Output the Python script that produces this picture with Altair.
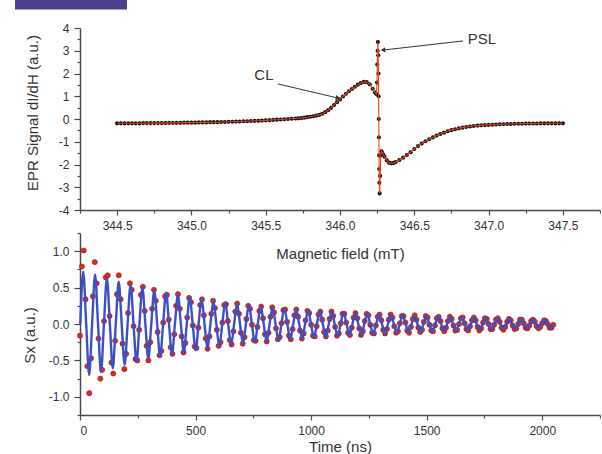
import altair as alt
import pandas as pd

FONT = "Liberation Sans"
TXT = "#333333"
AX = "#4a4a4a"

# ---------------- top panel: EPR spectrum ----------------
epr_field = [
    344.500, 344.525, 344.550, 344.575, 344.600, 344.625, 344.650, 344.675, 344.700, 344.725,
    344.750, 344.775, 344.800, 344.825, 344.850, 344.875, 344.900, 344.925, 344.950, 344.975,
    345.000, 345.025, 345.050, 345.075, 345.100, 345.125, 345.150, 345.175, 345.200, 345.225,
    345.250, 345.275, 345.300, 345.325, 345.350, 345.375, 345.400, 345.425, 345.450, 345.475,
    345.500, 345.525, 345.550, 345.575, 345.600, 345.625, 345.650, 345.675, 345.700,
    345.72, 345.74, 345.76, 345.78, 345.80, 345.82, 345.84, 345.86, 345.88, 345.90,
    345.92, 345.94, 345.96, 345.98, 346.00, 346.02, 346.04, 346.06, 346.08, 346.10,
    346.12, 346.14, 346.16, 346.18, 346.20, 346.22, 346.235, 346.245,
    346.249, 346.251, 346.253, 346.255, 346.257, 346.259, 346.260, 346.261, 346.262, 346.263,
    346.264, 346.265, 346.267, 346.270, 346.274, 346.280, 346.290, 346.300, 346.315, 346.330,
    346.345, 346.360, 346.375,
    346.400, 346.425, 346.450, 346.475, 346.500, 346.525, 346.550, 346.575, 346.600, 346.625,
    346.650, 346.675, 346.700, 346.725, 346.750, 346.775, 346.800, 346.825, 346.850, 346.875,
    346.900, 346.925, 346.950, 346.975, 347.000, 347.025, 347.050, 347.075, 347.100, 347.125,
    347.150, 347.175, 347.200, 347.225, 347.250, 347.275, 347.300, 347.325, 347.350, 347.375,
    347.400, 347.425, 347.450, 347.475, 347.500,
]
epr_signal = [
    -0.19, -0.19, -0.19, -0.19, -0.19, -0.19, -0.19, -0.18, -0.18, -0.18,
    -0.18, -0.18, -0.18, -0.18, -0.17, -0.17, -0.17, -0.17, -0.16, -0.16,
    -0.16, -0.16, -0.15, -0.15, -0.15, -0.14, -0.14, -0.14, -0.13, -0.13,
    -0.12, -0.12, -0.11, -0.11, -0.10, -0.10, -0.09, -0.08, -0.08, -0.07,
    -0.06, -0.05, -0.04, -0.03, -0.02, -0.01, 0.00, 0.01, 0.02,
    0.03, 0.04, 0.06, 0.08, 0.10, 0.12, 0.15, 0.18, 0.23, 0.30,
    0.39, 0.49, 0.61, 0.74, 0.86, 0.99, 1.11, 1.22, 1.32, 1.42,
    1.51, 1.58, 1.63, 1.62, 1.53, 1.33, 1.16, 1.10,
    1.6, 2.4, 3.0, 3.38, 2.8, 2.0, 1.0, 0.0, -0.8, -1.6,
    -2.2, -2.8, -3.27, -2.5, -1.6, -1.42, -1.55, -1.66, -1.82, -1.92,
    -1.95, -1.93, -1.89,
    -1.80, -1.70, -1.58, -1.46, -1.32, -1.19, -1.08, -0.98, -0.89, -0.81,
    -0.73, -0.66, -0.60, -0.54, -0.49, -0.45, -0.41, -0.38, -0.35, -0.33,
    -0.31, -0.29, -0.28, -0.27, -0.26, -0.25, -0.24, -0.23, -0.23, -0.22,
    -0.22, -0.21, -0.21, -0.21, -0.20, -0.20, -0.20, -0.20, -0.19, -0.19,
    -0.19, -0.19, -0.19, -0.19, -0.19,
]

epr_x_ticks = [344.25, 344.5, 344.75, 345.0, 345.25, 345.5, 345.75, 346.0, 346.25,
               346.5, 346.75, 347.0, 347.25, 347.5, 347.75]
epr_y_ticks = [-4, -3.5, -3, -2.5, -2, -1.5, -1, -0.5, 0, 0.5, 1, 1.5, 2, 2.5, 3, 3.5, 4]

# annotations (data units)
note_text = ["PSL", "CL"]
note_field = [346.956, 345.488]
note_signal = [3.52, 1.93]
arrow_from_field = [346.828, 345.583]
arrow_from_signal = [3.43, 1.54]
arrow_to_field = [346.289, 345.987]
arrow_to_signal = [3.03, 0.92]
arrow_angle = [173.6, 13.0]

# ---------------- bottom panel: Sx oscillation ----------------
sx_start_ns = 0.0
sx_step_ns = 8.0
fit_start_ns = 1.2
fit_step_ns = 12.8
sx_red = [
    -0.16, 0.79, 1.01, 0.34, -0.58, -0.95, -0.47, 0.38, 0.85, 0.56, -0.20, -0.75, -0.63, 0.04, 0.64, 0.67,
    0.11, -0.53, -0.68, -0.23, 0.41, 0.67, 0.34, -0.27, -0.62, -0.41, 0.15, 0.56, 0.47, -0.03, -0.48, -0.50,
    -0.08, 0.40, 0.51, 0.18, -0.30, -0.50, -0.25, 0.21, 0.47, 0.32, -0.11, -0.43, -0.37, 0.02, 0.38, 0.40,
    0.06, -0.32, -0.41, -0.14, 0.25, 0.41, 0.21, -0.17, -0.39, -0.26, 0.09, 0.36, 0.30, -0.02, -0.31, -0.33,
    -0.05, 0.26, 0.34, 0.12, -0.20, -0.34, -0.17, 0.14, 0.32, 0.22, -0.08, -0.30, -0.25, 0.02, 0.26, 0.27,
    0.04, -0.22, -0.28, -0.10, 0.17, 0.28, 0.14, -0.12, -0.27, -0.18, 0.07, 0.25, 0.21, -0.01, -0.22, -0.23,
    -0.04, 0.18, 0.24, 0.08, -0.14, -0.24, -0.12, 0.10, 0.23, 0.16, -0.06, -0.21, -0.18, 0.01, 0.19, 0.20,
    0.03, -0.16, -0.21, -0.07, 0.12, 0.20, 0.10, -0.09, -0.20, -0.13, 0.05, 0.18, 0.15, -0.01, -0.16, -0.17,
    -0.03, 0.13, 0.17, 0.06, -0.11, -0.17, -0.09, 0.07, 0.17, 0.11, -0.04, -0.16, -0.13, 0.01, 0.14, 0.14,
    0.02, -0.12, -0.15, -0.05, 0.09, 0.15, 0.08, -0.06, -0.15, -0.10, 0.04, 0.14, 0.12, -0.01, -0.12, -0.13,
    -0.02, 0.10, 0.13, 0.05, -0.08, -0.13, -0.07, 0.06, 0.13, 0.09, -0.03, -0.12, -0.10, 0.01, 0.11, 0.11,
    0.02, -0.09, -0.12, -0.04, 0.07, 0.12, 0.06, -0.05, -0.11, -0.08, 0.03, 0.11, 0.09, -0.01, -0.09, -0.10,
    -0.02, 0.08, 0.10, 0.04, -0.06, -0.10, -0.05, 0.04, 0.10, 0.07, -0.02, -0.09, -0.08, 0.00, 0.08, 0.09,
    0.01, -0.07, -0.09, -0.03, 0.05, 0.09, 0.05, -0.04, -0.09, -0.06, 0.02, 0.08, 0.07, 0.00, -0.07, -0.07,
    -0.01, 0.06, 0.08, 0.03, -0.05, -0.08, -0.04, 0.03, 0.07, 0.05, -0.02, -0.07, -0.06, 0.00, 0.06, 0.06,
    0.01, -0.05, -0.06, -0.02, 0.04, 0.06, 0.03, -0.03, -0.06, -0.04, 0.01, 0.05, 0.04, 0.00, -0.05, -0.05,
    -0.01,
]
sx_fit = [
    0, 0.72, 0, -0.70, 0, 0.68, 0, -0.66, 0, 0.63, 0, -0.61, 0, 0.58, 0, -0.56,
    0, 0.54, 0, -0.52, 0, 0.50, 0, -0.48, 0, 0.46, 0, -0.45, 0, 0.43, 0, -0.42,
    0, 0.40, 0, -0.39, 0, 0.37, 0, -0.36, 0, 0.35, 0, -0.34, 0, 0.32, 0, -0.31,
    0, 0.30, 0, -0.29, 0, 0.28, 0, -0.27, 0, 0.26, 0, -0.255, 0, 0.245, 0, -0.24,
    0, 0.23, 0, -0.225, 0, 0.215, 0, -0.21, 0, 0.20, 0, -0.20, 0, 0.19, 0, -0.185,
    0, 0.18, 0, -0.175, 0, 0.17, 0, -0.165, 0, 0.16, 0, -0.155, 0, 0.15, 0, -0.145,
    0, 0.14, 0, -0.135, 0, 0.13, 0, -0.13, 0, 0.125, 0, -0.12, 0, 0.12, 0, -0.115,
    0, 0.11, 0, -0.11, 0, 0.105, 0, -0.10, 0, 0.10, 0, -0.095, 0, 0.095, 0, -0.09,
    0, 0.09, 0, -0.085, 0, 0.085, 0, -0.08, 0, 0.08, 0, -0.075, 0, 0.075, 0, -0.07,
    0, 0.07, 0, -0.065, 0, 0.065, 0, -0.06, 0, 0.06, 0, -0.055, 0, 0.055, 0, -0.05,
    0,
]
sx_x_ticks = [0, 250, 500, 750, 1000, 1250, 1500, 1750, 2000, 2250]
sx_y_ticks = [-1.25, -1.0, -0.75, -0.5, -0.25, 0.0, 0.25, 0.5, 0.75, 1.0, 1.25]

# ---------------- tables ----------------
epr_df = pd.DataFrame({"field": epr_field, "signal": epr_signal})
note_df = pd.DataFrame({"field": note_field, "signal": note_signal, "text": note_text})
arrow_df = pd.DataFrame({"field": arrow_from_field, "signal": arrow_from_signal,
                         "field2": arrow_to_field, "signal2": arrow_to_signal})
head_df = pd.DataFrame({"field": arrow_to_field, "signal": arrow_to_signal, "angle": arrow_angle})
sx_df = pd.DataFrame({"t": [sx_start_ns + i * sx_step_ns for i in range(len(sx_red))], "sx": sx_red})
fit_df = pd.DataFrame({"t": [fit_start_ns + i * fit_step_ns for i in range(len(sx_fit))], "sx": sx_fit})

W, H = 520, 182

def cond(test, major, minor):
    return {"condition": {"test": test, "value": major}, "value": minor}

half_test = "abs(datum.value * 2 - round(datum.value * 2)) < 0.001"
int_test = "abs(datum.value - round(datum.value)) < 0.001"

common_axis = dict(grid=False, labelFont=FONT, labelFontSize=12, labelColor=TXT,
                   titleFont=FONT, titleFontSize=15, titleFontWeight="normal", titleColor=TXT,
                   domainColor=AX, domainWidth=1.5, tickColor=AX, tickWidth=1.2,
                   labelPadding=5, titleBaseline="middle")

epr_x_scale = alt.Scale(domain=[344.25, 347.75], nice=False, zero=False)
epr_y_scale = alt.Scale(domain=[-4, 4], nice=False, zero=False)

epr_x_axis = alt.Axis(values=epr_x_ticks, title="Magnetic field (mT)",
                      labelExpr=f"{half_test} ? format(datum.value, '.1f') : ''",
                      tickSize=cond(half_test, 5, 3), titleY=43, **common_axis)
epr_y_axis = alt.Axis(values=epr_y_ticks, title="EPR Signal dI/dH (a.u.)",
                      labelExpr=f"{int_test} ? '' + datum.value : ''",
                      tickSize=cond(int_test, 6, 3), titleX=-47.5, titleY=84.5, **common_axis)

top_base = alt.Chart(epr_df).encode(
    x=alt.X("field:Q", scale=epr_x_scale, axis=epr_x_axis),
    y=alt.Y("signal:Q", scale=epr_y_scale, axis=epr_y_axis))

epr_pts = top_base.mark_circle(size=17, color="#111111", opacity=1)
epr_line = top_base.mark_line(color="#e8401c", strokeWidth=1.1)
arrows = top_base.mark_rule(color="#333333", strokeWidth=1).encode(
    x2="field2:Q", y2="signal2:Q").properties(data=arrow_df)
heads = top_base.mark_point(shape="triangle-right", filled=True, size=28,
                            color="#333333", opacity=1).encode(
    angle=alt.Angle("angle:Q", scale=None)).properties(data=head_df)
notes = top_base.mark_text(font=FONT, fontSize=15, color=TXT).encode(
    text="text:N").properties(data=note_df)
badge = alt.Chart(alt.Data(values=[{}])).mark_rect(color="#4b3f8e").encode(
    x=alt.value(-65), x2=alt.value(47), y=alt.value(-28), y2=alt.value(-18.5))

top = alt.layer(epr_pts, epr_line, arrows, heads, notes, badge).properties(width=W, height=H)

# bottom
sx_x_scale = alt.Scale(domain=[0, 2250], nice=False, zero=False)
sx_y_scale = alt.Scale(domain=[-1.25, 1.25], nice=False, zero=False)
sx_x_axis = alt.Axis(values=sx_x_ticks, title="Time (ns)",
                     labelExpr="datum.value % 500 == 0 ? '' + datum.value : ''",
                     tickSize=cond("datum.value % 500 == 0", 5, 3), titleY=31.7, **common_axis)
sx_y_axis = alt.Axis(values=sx_y_ticks, title="Sx (a.u.)",
                     labelExpr=f"{half_test} ? (datum.value < 0 ? '-' : '') + format(abs(datum.value), '.1f') : ''",
                     tickSize=cond(half_test, 6, 3), titleX=-51, titleY=102, **common_axis)

bot_base = alt.Chart(sx_df).encode(
    x=alt.X("t:Q", scale=sx_x_scale, axis=sx_x_axis),
    y=alt.Y("sx:Q", scale=sx_y_scale, axis=sx_y_axis))

red_pts = bot_base.mark_circle(size=26, color="#e3261e", opacity=1,
                               stroke="#8a1f1a", strokeWidth=0.6)
fit_line = bot_base.mark_line(color="#3d4fc4", strokeWidth=2.4,
                              interpolate="monotone").properties(data=fit_df)

bottom = alt.layer(red_pts, fit_line).properties(width=W, height=H)

chart = alt.vconcat(top, bottom, spacing=23, bounds="flush").properties(
    padding={"left": 15, "top": 0, "right": 0, "bottom": 0}
).configure_view(stroke=None)

chart.save("out.html", embed_options={"renderer": "svg", "actions": False})
